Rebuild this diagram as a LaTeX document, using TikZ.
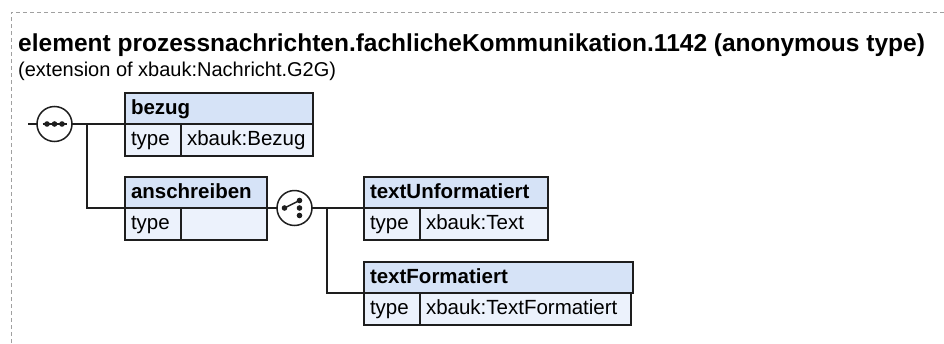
\documentclass[tikz,border=0pt]{standalone}
\usepackage{fontspec}
\setmainfont{Liberation Sans}
\usetikzlibrary{positioning}

\definecolor{headfill}{RGB}{214,227,247}
\definecolor{bodyfill}{RGB}{236,242,252}
\definecolor{boxline}{RGB}{30,30,30}
\definecolor{framegray}{RGB}{160,160,160}

\begin{document}
\begin{tikzpicture}[
    x=1pt, y=-1pt,
    head/.style={draw=boxline, fill=headfill, line width=1.5pt, anchor=north west,
        minimum height=31pt, inner xsep=6pt, inner ysep=0pt, outer sep=0pt, align=left,
        text height=15pt, text depth=4pt, font=\bfseries\fontsize{20.5}{24}\selectfont},
    cell/.style={draw=boxline, fill=bodyfill, line width=1.5pt, anchor=north west,
        minimum height=32pt, inner xsep=6pt, inner ysep=0pt, outer sep=0pt, align=left,
        text height=15pt, text depth=4pt, font=\fontsize{20.5}{24}\selectfont},
    compositor/.style={draw=boxline, fill=white, circle, line width=1.5pt,
        minimum size=35pt, inner sep=0pt, outer sep=0pt},
    link/.style={draw=boxline, line width=1.5pt},
    frame/.style={draw=framegray, line width=1pt, dash pattern=on 4pt off 3pt}
]
\useasboundingbox (0,0) rectangle (944,343);

% Frame and heading
\draw[frame] (11,343) -- (11,12) -- (944,12);
\node[anchor=base west, inner sep=0pt, font=\bfseries\fontsize{24.5}{29}\selectfont]
    (title) at (18,51) {element prozessnachrichten.fachlicheKommunikation.1142 (anonymous type)};
\node[anchor=base west, inner sep=0pt, font=\fontsize{20}{24}\selectfont]
    (subtitle) at (18,76) {(extension of xbauk:Nachricht.G2G)};

% Elements
\node[head, text width=176pt] (bezug) at (125,93) {bezug};
\node[cell, text width=44pt] (bezugtype) at (bezug.south west) {type};
\node[cell, text width=120pt] (bezugval) at (bezugtype.north east) {xbauk:Bezug};

\node[head, text width=130pt] (anschreiben) at (125,177) {anschreiben};
\node[cell, text width=44pt] (anschreibentype) at (anschreiben.south west) {type};
\node[cell, text width=74pt] (anschreibenval) at (anschreibentype.north east) {};

\node[head, text width=172pt] (unformatiert) at (364,177) {textUnformatiert};
\node[cell, text width=44pt] (unformatierttype) at (unformatiert.south west) {type};
\node[cell, text width=116pt] (unformatiertval) at (unformatierttype.north east) {xbauk:Text};

\node[head, text width=257pt] (formatiert) at (364,262) {textFormatiert};
\node[cell, text width=44pt] (formatierttype) at (formatiert.south west) {type};
\node[cell, text width=199pt] (formatiertval) at (formatierttype.north east) {xbauk:TextFormatiert};

% Compositors
\node[compositor] (seq) at (54.5,124) {};
\node[compositor] (choice) at (294.5,208) {};

% Connectors
\coordinate (entry) at (28,124);
\coordinate (seqfork) at (87,124);
\coordinate (choicefork) at (327,208);
\draw[link] (entry) -- (seq.west);
\draw[link] (seq.east) -- (bezug.south west);
\draw[link] (seqfork) |- (anschreiben.south west);
\draw[link] (anschreiben.south east) -- (choice.west);
\draw[link] (choice.east) -- (unformatiert.south west);
\draw[link] (choicefork) |- (formatiert.south west);

% Sequence symbol
\draw[boxline, line width=1.5pt] ([xshift=-12pt]seq.center) -- ([xshift=12pt]seq.center);
\foreach \dx in {-7.5,0,7.5}
    \fill[boxline] ([xshift=\dx pt]seq.center) circle (2.8pt);

% Choice symbol
\draw[boxline, line width=1.5pt] ([xshift=-10pt]choice.center) -- ([xshift=5pt, yshift=7.5pt]choice.center);
\fill[boxline] ([xshift=-10pt]choice.center) circle (2.8pt);
\foreach \dy in {-7.5,0,7.5}
    \fill[boxline] ([xshift=5pt, yshift=\dy pt]choice.center) circle (2.8pt);

\end{tikzpicture}
\end{document}
